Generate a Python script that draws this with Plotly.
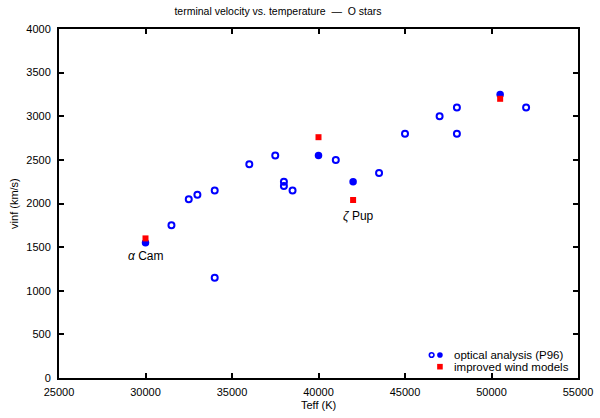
import plotly.graph_objects as go

# Optical analysis (P96), open circles
teff_open = [31500, 32500, 33000, 34000, 34000, 36000, 37500, 38000, 38000, 38500,
             41000, 43500, 45000, 47000, 48000, 48000, 52000]
vinf_open = [1750, 2050, 2100, 2150, 1150, 2450, 2550, 2250, 2200, 2150,
             2500, 2350, 2800, 3000, 3100, 2800, 3100]

# Optical analysis (P96), filled circles
teff_filled = [30000, 40000, 42000, 50500]
vinf_filled = [1550, 2550, 2250, 3250]

# Improved wind models
teff_model = [30000, 40000, 42000, 50500]
vinf_model = [1600, 2760, 2040, 3200]

x_ticks = [25000, 30000, 35000, 40000, 45000, 50000, 55000]
y_ticks = [0, 500, 1000, 1500, 2000, 2500, 3000, 3500, 4000]

labels_text = ["<i>\u03b1</i> Cam", "<i>\u03b6</i> Pup"]
labels_x = [30000, 42300]
labels_y = [1400, 1860]

FONT = "Liberation Sans, Arial, Helvetica, sans-serif"
BLUE = "#0000ff"
RED = "#ff0000"

fig = go.Figure()
fig.add_trace(go.Scatter(
    x=teff_open, y=vinf_open, mode="markers",
    marker=dict(symbol="circle-open", size=6, color=BLUE, line=dict(width=2, color=BLUE)),
    showlegend=False))
fig.add_trace(go.Scatter(
    x=teff_filled, y=vinf_filled, mode="markers",
    marker=dict(symbol="circle", size=7.5, color=BLUE, line=dict(width=0)),
    showlegend=False))
fig.add_trace(go.Scatter(
    x=teff_model, y=vinf_model, mode="markers",
    marker=dict(symbol="square", size=6, color=RED, line=dict(width=0)),
    showlegend=False))

annotations = []
for t, xx, yy in zip(labels_text, labels_x, labels_y):
    annotations.append(dict(x=xx, y=yy, xref="x", yref="y", text=t, showarrow=False,
                            xanchor="center", yanchor="middle",
                            font=dict(family=FONT, size=12, color="black")))

# Axis titles
annotations.append(dict(x=0.5, y=-0.0774, xref="paper", yref="paper", text="Teff (K)",
                        showarrow=False, xanchor="center", yanchor="middle",
                        font=dict(family=FONT, size=11, color="black")))
annotations.append(dict(x=-0.0878, y=0.5, xref="paper", yref="paper", text="vinf (km/s)",
                        showarrow=False, xanchor="center", yanchor="middle", textangle=-90,
                        font=dict(family=FONT, size=11, color="black")))

# Manual legend (bottom right, inside plot)
leg_rows = [0.0659, 0.0324]
annotations.append(dict(x=0.757, y=leg_rows[0], xref="paper", yref="paper",
                        text="optical analysis (P96)", showarrow=False,
                        xanchor="left", yanchor="middle",
                        font=dict(family=FONT, size=11.5, color="black")))
annotations.append(dict(x=0.757, y=leg_rows[1], xref="paper", yref="paper",
                        text="improved wind models", showarrow=False,
                        xanchor="left", yanchor="middle",
                        font=dict(family=FONT, size=11.5, color="black")))

shapes = [
    dict(type="circle", xref="paper", yref="paper", xsizemode="pixel", ysizemode="pixel",
         xanchor=0.718, yanchor=leg_rows[0], x0=-2.3, x1=2.3, y0=-2.3, y1=2.3,
         line=dict(color=BLUE, width=1.6), fillcolor="rgba(0,0,0,0)"),
    dict(type="circle", xref="paper", yref="paper", xsizemode="pixel", ysizemode="pixel",
         xanchor=0.734, yanchor=leg_rows[0], x0=-2.8, x1=2.8, y0=-2.8, y1=2.8,
         line=dict(color=BLUE, width=0), fillcolor=BLUE),
    dict(type="rect", xref="paper", yref="paper", xsizemode="pixel", ysizemode="pixel",
         xanchor=0.734, yanchor=leg_rows[1], x0=-2.8, x1=2.8, y0=-2.8, y1=2.8,
         line=dict(color=RED, width=0), fillcolor=RED),
]

axis_common = dict(showline=True, linecolor="black", linewidth=2, mirror="ticks",
                   ticks="inside", ticklen=5, tickwidth=2, tickcolor="black",
                   showgrid=False, zeroline=False, automargin=False,
                   tickfont=dict(family=FONT, size=11, color="black"))

fig.update_layout(
    width=600, height=418,
    margin=dict(l=59, r=22, t=29, b=40),
    paper_bgcolor="white", plot_bgcolor="white",
    title=dict(text="terminal velocity vs. temperature  \u2014  O stars", x=278 / 600,
               xanchor="center", xref="container",
               y=1 - 11 / 418, yanchor="middle",
               font=dict(family=FONT, size=10.5, color="black")),
    xaxis=dict(range=[25000, 55000], tickvals=x_ticks, ticktext=[str(v) for v in x_ticks],
               ticklabelstandoff=3, **axis_common),
    yaxis=dict(range=[0, 4000], tickvals=y_ticks, ticktext=[str(v) for v in y_ticks],
               ticklabelstandoff=4, **axis_common),
    annotations=annotations,
    shapes=shapes,
    showlegend=False,
)

fig.write_html("out.html", config={"displayModeBar": False},
               post_script="document.body.style.margin='0px';")
